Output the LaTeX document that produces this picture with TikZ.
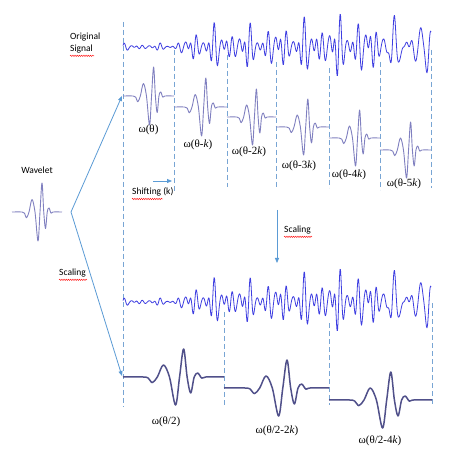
\documentclass[tikz,border=0pt]{standalone}
\usepackage{fontspec}
\setmainfont{Liberation Serif}
\newfontfamily\calibfont{Carlito}
\usetikzlibrary{arrows.meta,decorations.pathmorphing}
\definecolor{sigblue}{RGB}{62,62,225}
\definecolor{wavlav}{RGB}{128,128,192}
\definecolor{wavdark}{RGB}{80,80,138}
\definecolor{dashblue}{RGB}{120,165,212}
\definecolor{arrblue}{RGB}{91,155,213}
\pgfmathdeclarefunction{sigv}{1}{%
  \pgfmathsetmacro\sgT{#1-123}%
  \pgfmathsetmacro\sgA{3.5+18*min(1,max(0,(\sgT-52)/28))+9*min(1,max(0,(\sgT-150)/60))}%
  \pgfmathsetmacro\sgH{1-0.7*min(1,max(0,(\sgT-240)/40))}%
  \pgfmathsetmacro\sgM{0.85+0.3*sin(12*mod(\sgT,30)+40)}%
  \pgfmathparse{\sgA*\sgM*(\sgH*(0.5*sin(60*mod(\sgT,6))+0.18*sin(80*mod(\sgT,4.5)+20))+0.35*sin(40*mod(\sgT,9)+50)+(1.2-\sgH)*0.45*sin(27.7*mod(\sgT,13)+120))}%
}
\tikzset{
  wav/.pic={\draw[pic actions] plot[smooth,tension=0.55] coordinates {(0,0) (0.2,0) (0.25,-0.04) (0.29,-0.2) (0.34,0) (0.4,0.43) (0.46,0) (0.52,-1) (0.56,0) (0.6,1) (0.635,0) (0.67,-0.57) (0.705,0) (0.74,0.14) (0.78,-0.04) (0.82,0) (1,0)};},
  lightwav/.style={draw=wavlav,line width=0.9pt,line join=round},
  darkwav/.style={draw=wavdark,line width=1.5pt,line join=round},
  sigline/.style={draw=sigblue,line width=0.8pt,line join=round},
  dashv/.style={draw=dashblue,line width=0.8pt,dash pattern=on 5pt off 3pt},
  arr/.style={draw=arrblue,line width=0.8pt,-{Triangle[length=5pt,width=4pt]}},
  sanslbl/.style={font=\calibfont\fontsize{9.5}{11}\selectfont,inner sep=0pt},
  omlbl/.style={font=\fontsize{11}{13}\selectfont,inner sep=0pt},
  spell/.style={draw=red,line width=0.4pt,decorate,decoration={snake,amplitude=0.7pt,segment length=2.2pt}}
}
\begin{document}
\begin{tikzpicture}[x=1pt,y=-1pt]
\fill[white] (0,0) rectangle (474,457);
\useasboundingbox (0,0) rectangle (474,457);
% dashed verticals
\draw[dashv] (123,22) -- (123,407);
\draw[dashv] (174,50) -- (174,193);
\draw[dashv] (227,55) -- (227,187);
\draw[dashv] (276,62) -- (276,188);
\draw[dashv] (329,68) -- (329,188);
\draw[dashv] (380,62) -- (380,190);
\draw[dashv] (431,50) -- (431,188);
\draw[dashv] (224,312) -- (224,407);
\draw[dashv] (329,323) -- (329,405);
\draw[dashv] (432,303) -- (432,405);
% signals
\draw[sigline] plot[domain=123:431,samples=617] (\x,{47-sigv(\x)});
\draw[sigline] plot[domain=123:431,samples=617] (\x,{302-sigv(\x)});
% wavelets
\pic[lightwav,xscale=50,yscale=-29] at (12,212) {wav};
\pic[lightwav,xscale=51,yscale=-29] at (123,96) {wav};
\pic[lightwav,xscale=53,yscale=-29] at (174,107) {wav};
\pic[lightwav,xscale=49,yscale=-28] at (227,117) {wav};
\pic[lightwav,xscale=53,yscale=-28] at (276,127) {wav};
\pic[lightwav,xscale=51,yscale=-28] at (329,138) {wav};
\pic[lightwav,xscale=51,yscale=-28] at (380,150) {wav};
\pic[darkwav,xscale=101,yscale=-28] at (123,377) {wav};
\pic[darkwav,xscale=105,yscale=-28] at (224,388) {wav};
\pic[darkwav,xscale=103,yscale=-28] at (329,400) {wav};
% labels
\node[sanslbl,anchor=west] (orig) at (70,37) {Original};
\node[sanslbl,anchor=west] (sig) at (70,49) {Signal};
\draw[spell] (sig.south west) ++(0,2.5) -- ++(24,0);
\node[sanslbl] (wavl) at (37,170) {Wavelet};
\node[sanslbl,anchor=west] (shift) at (132,192) {Shifting (k)};
\draw[spell] (shift.south west) ++(0,2.5) -- ++(31,0);
\node[sanslbl,anchor=west] (scalr) at (284,230) {Scaling};
\draw[spell] (scalr.south west) ++(0,2.5) -- ++(28,0);
\node[sanslbl,anchor=west] (scall) at (59,273) {Scaling};
\draw[spell] (scall.south west) ++(0,2.5) -- ++(28,0);
\node[omlbl] (w0) at (148.5,130) {ω(θ)};
\node[omlbl] (w1) at (198,145) {ω(θ-\textit{k})};
\node[omlbl] (w2) at (249,152) {ω(θ-2\textit{k})};
\node[omlbl] (w3) at (299,166) {ω(θ-3\textit{k})};
\node[omlbl] (w4) at (349,175) {ω(θ-4\textit{k})};
\node[omlbl] (w5) at (404,184) {ω(θ-5\textit{k})};
\node[omlbl] (b0) at (166,422) {ω(θ/2)};
\node[omlbl] (b1) at (277,431) {ω(θ/2-2\textit{k})};
\node[omlbl] (b2) at (380,441) {ω(θ/2-4\textit{k})};
% arrows
\coordinate (src) at (71,212);
\coordinate (topend) at (122,96);
\coordinate (botend) at (122,376);
\draw[arr] (src) -- (topend);
\draw[arr] (src) -- (botend);
\coordinate (shs) at (153,181);
\coordinate (she) at (172,181);
\draw[arr] (shs) -- (she);
\coordinate (scs) at (277,210);
\coordinate (sce) at (277,263);
\draw[arr] (scs) -- (sce);
\end{tikzpicture}
\end{document}
